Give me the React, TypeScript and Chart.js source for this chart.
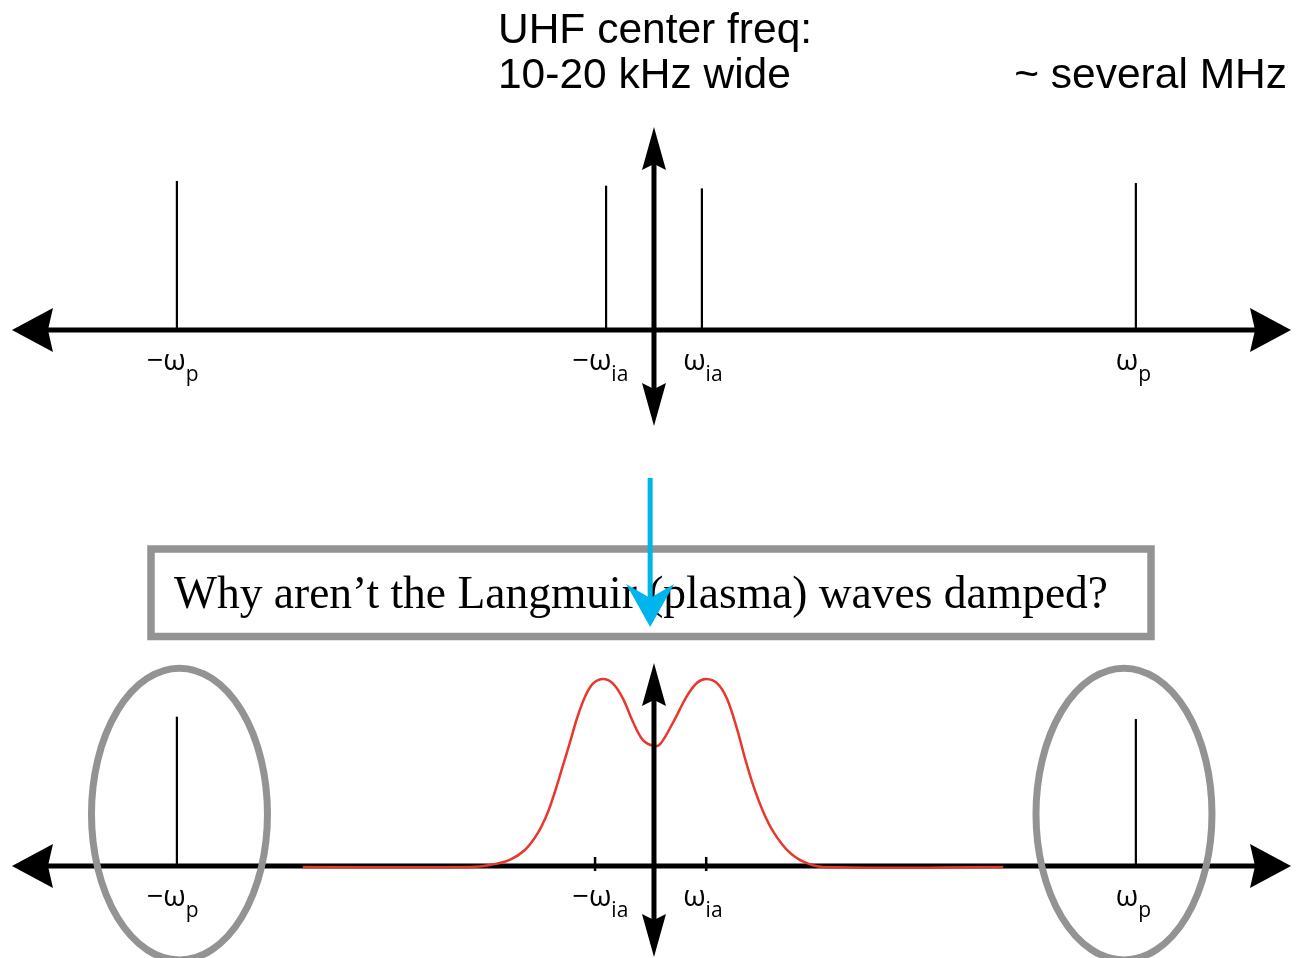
import React, { useEffect, useRef } from "react";
import { Chart, registerables } from "chart.js";

Chart.register(...registerables);

// ---- frequency axis (units of omega_p) ----
const X_MIN = -1.3653;
const X_MAX = 1.3424;

// ---- top panel: discrete spectral lines ----
const topSpikeX = [-0.996, -0.1, 0.1, 1.006];
const topSpikeH = [1.007, 0.975, 0.957, 0.993];

// ---- bottom panel: plasma lines + ion-acoustic double hump ----
const botSpikeX = [-0.996, 1.006];
const botSpikeH = [1.009, 0.993];
const botTickX = [-0.123, 0.109];

const curveX = [
  -0.733, -0.384, -0.342, -0.301, -0.269, -0.244, -0.223, -0.207, -0.19, -0.175,
  -0.161, -0.144, -0.127, -0.106, -0.086, -0.065, -0.044, -0.023, 0, 0.013, 0.04,
  0.069, 0.09, 0.109, 0.132, 0.152, 0.173, 0.19, 0.207, 0.228, 0.249, 0.278,
  0.312, 0.353, 0.729,
];
const curveY = [
  -0.007, -0.007, 0.007, 0.042, 0.11, 0.215, 0.352, 0.5, 0.68, 0.84, 0.995,
  1.144, 1.234, 1.264, 1.234, 1.133, 0.975, 0.851, 0.811, 0.824, 0.971, 1.149,
  1.238, 1.264, 1.234, 1.133, 0.93, 0.728, 0.547, 0.367, 0.232, 0.108, 0.029,
  -0.007, -0.007,
];

// ---- axis tick labels ----
const labelMain = ["\u2212\u03c9", "\u2212\u03c9", "\u03c9", "\u03c9"];
const labelSub = ["p", "ia", "ia", "p"];
const labelX = [-1.005, -0.112, 0.102, 1.001];

// ---- annotation texts ----
const topTextLeft = ["UHF center freq:", "10-20 kHz wide"];
const topTextRight = "~ several MHz";
const questionText = "Why aren\u2019t the Langmuir (plasma) waves damped?";

// highlighted plasma lines (ellipses) in axis units
const ellipseCX = [-0.9906, 0.9812];
const ellipseCY = 0.351;
const ellipseRX = 0.1837;
const ellipseRY = 0.986;

const GRAY = "#939393";
const RED = "#e8372c";
const CYAN = "#00b4ee";

function head(
  ctx: CanvasRenderingContext2D,
  tx: number,
  ty: number,
  dx: number,
  dy: number,
  len: number,
  half: number,
  notch: number
) {
  const bx = tx - dx * len;
  const by = ty - dy * len;
  const nx = -dy;
  const ny = dx;
  ctx.beginPath();
  ctx.moveTo(tx, ty);
  ctx.lineTo(bx + nx * half, by + ny * half);
  ctx.lineTo(tx - dx * notch, ty - dy * notch);
  ctx.lineTo(bx - nx * half, by - ny * half);
  ctx.closePath();
  ctx.fill();
}

const diagramPlugin = {
  id: "diagram",
  beforeDatasetsDraw(chart: any) {
    const ctx: CanvasRenderingContext2D = chart.ctx;
    const xs = chart.scales.x;
    ctx.save();
    ctx.fillStyle = "#000";
    ctx.strokeStyle = "#000";
    ctx.lineWidth = 5;
    for (const id of ["yTop", "yBot"]) {
      const ys = chart.scales[id];
      const y = ys.getPixelForValue(0);
      const l = xs.getPixelForValue(-1.3403);
      const r = xs.getPixelForValue(1.3299);
      ctx.beginPath();
      ctx.moveTo(l + 36, y);
      ctx.lineTo(r - 36, y);
      ctx.stroke();
      head(ctx, l, y, -1, 0, 41, 22, 36);
      head(ctx, r, y, 1, 0, 41, 22, 36);
    }
    ctx.restore();
  },
  afterDatasetsDraw(chart: any) {
    const ctx: CanvasRenderingContext2D = chart.ctx;
    const xs = chart.scales.x;
    const yt = chart.scales.yTop;
    const yb = chart.scales.yBot;
    ctx.save();
    // vertical axes
    ctx.fillStyle = "#000";
    ctx.strokeStyle = "#000";
    ctx.lineWidth = 5;
    const x0 = xs.getPixelForValue(0);
    const vAxes: [any, number, number][] = [
      [yt, 1.372, -0.649],
      [yb, 1.372, -0.615],
    ];
    for (const [ys, hi, lo] of vAxes) {
      const t = ys.getPixelForValue(hi);
      const b = ys.getPixelForValue(lo);
      ctx.beginPath();
      ctx.moveTo(x0, t + 36);
      ctx.lineTo(x0, b - 36);
      ctx.stroke();
      head(ctx, x0, t, 0, -1, 43, 12, 37);
      head(ctx, x0, b, 0, 1, 43, 12, 37);
    }

    // tick labels
    ctx.fillStyle = "#000";
    ctx.textBaseline = "alphabetic";
    ctx.textAlign = "left";
    const mainFont = '29px "Open Sans", sans-serif';
    const subFont = '21px "Open Sans", sans-serif';
    for (const ys of [yt, yb]) {
      const base = ys.getPixelForValue(0);
      for (let i = 0; i < labelMain.length; i++) {
        ctx.font = mainFont;
        const wm = ctx.measureText(labelMain[i]).width;
        ctx.font = subFont;
        const ws = ctx.measureText(labelSub[i]).width;
        const cx = xs.getPixelForValue(labelX[i]);
        const sx = cx - (wm + ws) / 2;
        ctx.font = mainFont;
        ctx.fillText(labelMain[i], sx, base + 40);
        ctx.font = subFont;
        ctx.fillText(labelSub[i], sx + wm, base + 51);
      }
    }

    // ellipses around plasma lines
    ctx.strokeStyle = GRAY;
    ctx.lineWidth = 7;
    for (const cxv of ellipseCX) {
      const cx = xs.getPixelForValue(cxv);
      const cy = yb.getPixelForValue(ellipseCY);
      const rx = Math.abs(xs.getPixelForValue(cxv + ellipseRX) - cx);
      const ry = Math.abs(yb.getPixelForValue(ellipseCY + ellipseRY) - cy);
      ctx.beginPath();
      ctx.ellipse(cx, cy, rx, ry, 0, 0, Math.PI * 2);
      ctx.stroke();
    }

    // question box
    const bl = xs.getPixelForValue(-1.0501);
    const br = xs.getPixelForValue(1.0376);
    const bt = yb.getPixelForValue(2.1419);
    const bbm = yb.getPixelForValue(1.5507);
    ctx.lineWidth = 7.5;
    ctx.strokeStyle = GRAY;
    ctx.strokeRect(bl, bt, br - bl, bbm - bt);
    ctx.fillStyle = "#000";
    ctx.font = '45.5px "Liberation Serif", "Times New Roman", serif';
    ctx.fillText(questionText, xs.getPixelForValue(-1.0021), yb.getPixelForValue(1.743));

    // top texts
    ctx.font = '42.5px "Liberation Sans", Arial, sans-serif';
    ctx.textAlign = "left";
    ctx.fillText(topTextLeft[0], xs.getPixelForValue(-0.3257), yt.getPixelForValue(1.939));
    ctx.fillText(topTextLeft[1], xs.getPixelForValue(-0.3257), yt.getPixelForValue(1.635));
    ctx.textAlign = "right";
    ctx.fillText(topTextRight, xs.getPixelForValue(1.3215), yt.getPixelForValue(1.635));

    // cyan arrow
    const ax = xs.getPixelForValue(-0.008);
    const aTop = yb.getPixelForValue(2.6216);
    const aTip = yb.getPixelForValue(1.6149);
    ctx.strokeStyle = CYAN;
    ctx.fillStyle = CYAN;
    ctx.lineWidth = 5;
    ctx.beginPath();
    ctx.moveTo(ax, aTop);
    ctx.lineTo(ax, aTip - 28);
    ctx.stroke();
    head(ctx, ax, aTip, 0, 1, 43, 24, 29);
    ctx.restore();
  },
};

export default function App() {
  const ref = useRef<HTMLCanvasElement | null>(null);
  useEffect(() => {
    document.body.style.margin = "0";
    const canvas = ref.current;
    if (!canvas) return;

    const datasets: any[] = [];
    topSpikeX.forEach((x, i) => {
      datasets.push({
        data: [
          { x, y: 0 },
          { x, y: topSpikeH[i] },
        ],
        yAxisID: "yTop",
        borderColor: "#000",
        borderWidth: 2.2,
      });
    });
    botSpikeX.forEach((x, i) => {
      datasets.push({
        data: [
          { x, y: 0 },
          { x, y: botSpikeH[i] },
        ],
        yAxisID: "yBot",
        borderColor: "#000",
        borderWidth: 2.2,
      });
    });
    botTickX.forEach((x) => {
      datasets.push({
        data: [
          { x, y: -0.034 },
          { x, y: 0.061 },
        ],
        yAxisID: "yBot",
        borderColor: "#000",
        borderWidth: 2.5,
      });
    });
    datasets.push({
      data: curveX.map((x, i) => ({ x, y: curveY[i] })),
      yAxisID: "yBot",
      borderColor: RED,
      borderWidth: 2.5,
      tension: 0.35,
    });
    datasets.forEach((d) => {
      d.showLine = true;
      d.pointRadius = 0;
      d.pointHoverRadius = 0;
      d.fill = false;
    });

    const chart = new Chart(canvas, {
      type: "scatter",
      data: { datasets },
      options: {
        animation: false,
        responsive: false,
        devicePixelRatio: 1,
        events: [],
        layout: { padding: 0 },
        plugins: { legend: { display: false }, tooltip: { enabled: false } },
        scales: {
          x: { type: "linear", min: X_MIN, max: X_MAX, display: false },
          yTop: { type: "linear", axis: "y", min: -4.243, max: 2.2297, display: false },
          yBot: { type: "linear", axis: "y", min: -0.6216, max: 5.8514, display: false },
        },
      } as any,
      plugins: [diagramPlugin],
    });
    return () => chart.destroy();
  }, []);

  return (
    <div style={{ position: "absolute", left: 0, top: 0, width: 1297, height: 958, background: "#fff" }}>
      <canvas ref={ref} width={1297} height={958} style={{ display: "block", width: 1297, height: 958 }} />
    </div>
  );
}
